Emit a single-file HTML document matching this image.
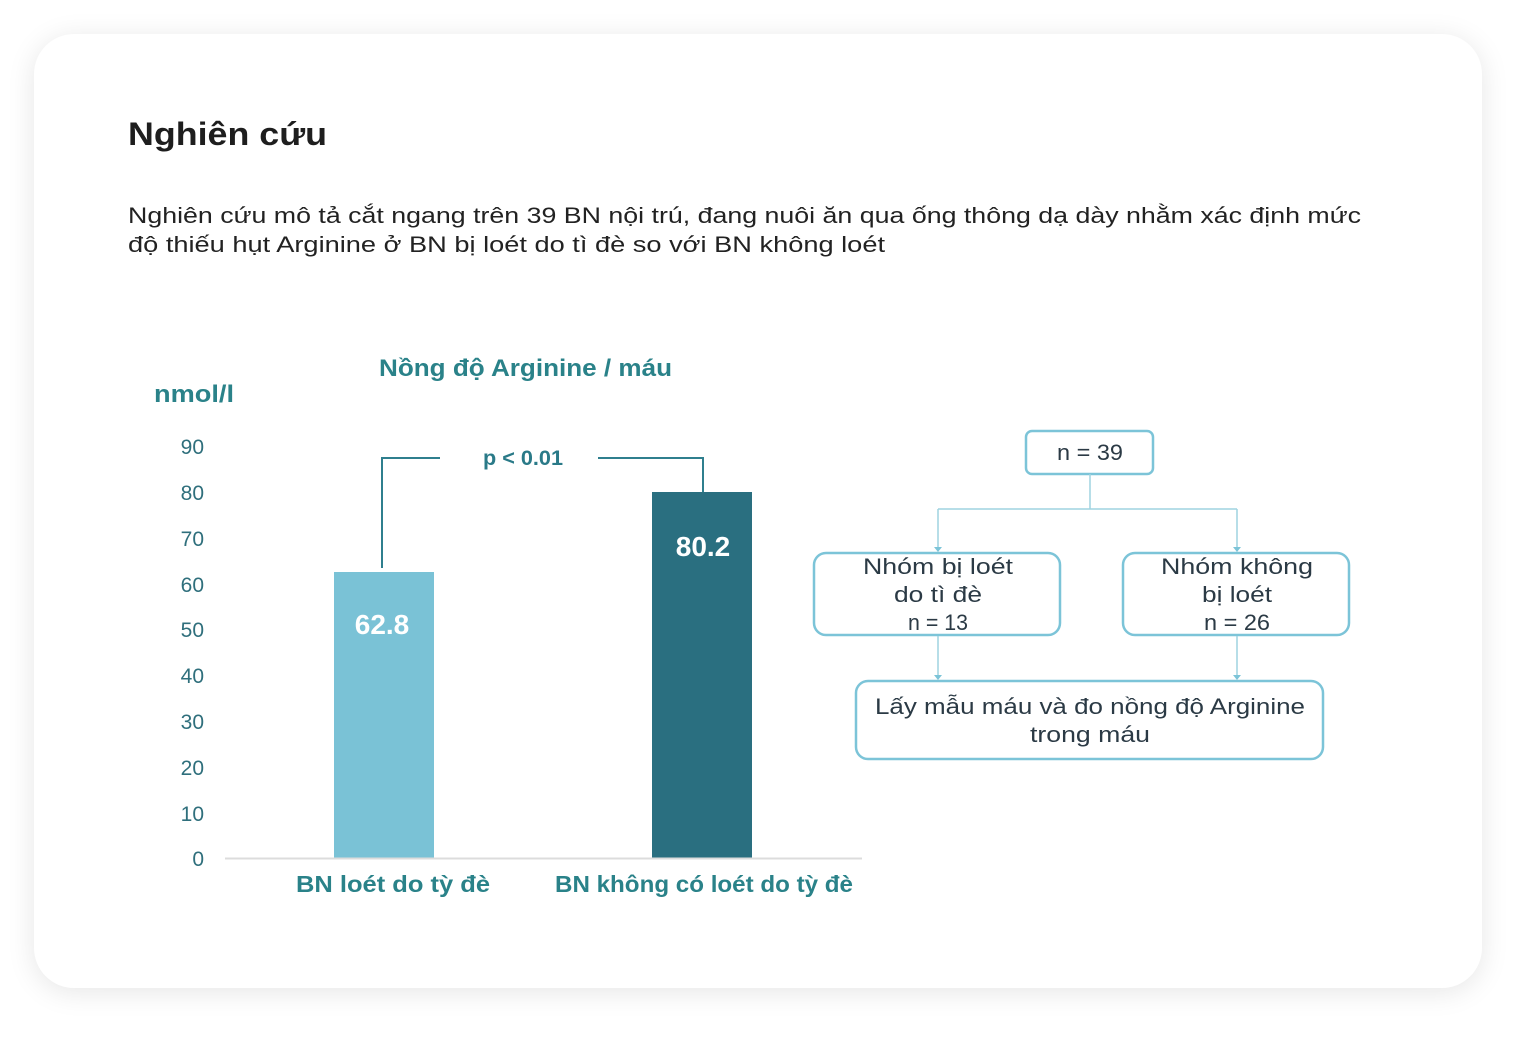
<!DOCTYPE html>
<html><head><meta charset="utf-8"><style>
html,body{margin:0;padding:0;background:#fff;}
body{width:1536px;height:1043px;overflow:hidden;position:relative;font-family:"Liberation Sans","DejaVu Sans",sans-serif;}
.card{position:absolute;left:34px;top:34px;width:1448px;height:954px;border-radius:40px;background:#fff;box-shadow:0 4px 28px rgba(0,0,0,0.10);}
svg{position:absolute;left:0;top:0;}
</style></head><body>
<div class="card"></div>
<svg width="1536" height="1043" viewBox="0 0 1536 1043" font-family="Liberation Sans, DejaVu Sans, sans-serif">
<text x="128" y="145" font-size="32" font-weight="bold" fill="#1e1e1e" textLength="199" lengthAdjust="spacingAndGlyphs">Nghiên cứu</text>
<text x="128" y="223" font-size="22" fill="#222" textLength="1233" lengthAdjust="spacingAndGlyphs">Nghiên cứu mô tả cắt ngang trên 39 BN nội trú, đang nuôi ăn qua ống thông dạ dày nhằm xác định mức</text>
<text x="128" y="252" font-size="22" fill="#222" textLength="757" lengthAdjust="spacingAndGlyphs">độ thiếu hụt Arginine ở BN bị loét do tì đè so với BN không loét</text>

<text x="379" y="376" font-size="24" font-weight="bold" fill="#2a8289" textLength="293" lengthAdjust="spacingAndGlyphs">Nồng độ Arginine / máu</text>
<text x="154" y="402" font-size="24" font-weight="bold" fill="#2a8289" textLength="80" lengthAdjust="spacingAndGlyphs">nmol/l</text>
<g font-size="21" fill="#2f6f7c" text-anchor="end">
<text x="204" y="454">90</text><text x="204" y="500">80</text><text x="204" y="546">70</text>
<text x="204" y="592">60</text><text x="204" y="637">50</text><text x="204" y="683">40</text>
<text x="204" y="729">30</text><text x="204" y="775">20</text><text x="204" y="821">10</text>
<text x="204" y="866">0</text>
</g>
<rect x="334" y="572" width="100" height="286" fill="#7ac2d6"/>
<rect x="652" y="492" width="100" height="366" fill="#2a6f80"/>
<line x1="225" y1="858.5" x2="862" y2="858.5" stroke="#dcdcdc" stroke-width="2"/>
<text x="382" y="634" font-size="28" font-weight="bold" fill="#fff" text-anchor="middle">62.8</text>
<text x="703" y="556" font-size="28" font-weight="bold" fill="#fff" text-anchor="middle">80.2</text>
<polyline points="382,568 382,458 440,458" fill="none" stroke="#2f7f8e" stroke-width="2"/>
<polyline points="598,458 703,458 703,492" fill="none" stroke="#2f7f8e" stroke-width="2"/>
<text x="483" y="465" font-size="21" font-weight="bold" fill="#2a7a88" textLength="80" lengthAdjust="spacingAndGlyphs">p &lt; 0.01</text>
<text x="296" y="892" font-size="23" font-weight="bold" fill="#2a8289" textLength="194" lengthAdjust="spacingAndGlyphs">BN loét do tỳ đè</text>
<text x="555" y="892" font-size="23" font-weight="bold" fill="#2a8289" textLength="298" lengthAdjust="spacingAndGlyphs">BN không có loét do tỳ đè</text>

<g fill="none" stroke="#7cc4d8" stroke-width="2.5">
<rect x="1026" y="431" width="127" height="43" rx="6"/>
<rect x="814" y="553" width="246" height="82" rx="12"/>
<rect x="1123" y="553" width="226" height="82" rx="12"/>
<rect x="856" y="681" width="467" height="78" rx="12"/>
</g>
<g fill="none" stroke="#9fd3e0" stroke-width="1.5">
<line x1="1090" y1="474" x2="1090" y2="509"/>
<line x1="938" y1="509" x2="1237" y2="509"/>
<line x1="938" y1="509" x2="938" y2="548"/>
<line x1="1237" y1="509" x2="1237" y2="548"/>
<line x1="938" y1="636" x2="938" y2="676"/>
<line x1="1237" y1="636" x2="1237" y2="676"/>
</g>
<g fill="#7cc4d8">
<polygon points="934,547 942,547 938,552"/><polygon points="1233,547 1241,547 1237,552"/>
<polygon points="934,675 942,675 938,680"/><polygon points="1233,675 1241,675 1237,680"/>
</g>
<g font-size="22" fill="#2b3a45" text-anchor="middle">
<text x="1090" y="460" textLength="66" lengthAdjust="spacingAndGlyphs">n = 39</text>
<text x="938" y="574" textLength="150" lengthAdjust="spacingAndGlyphs">Nhóm bị loét</text><text x="938" y="602" textLength="88" lengthAdjust="spacingAndGlyphs">do tì đè</text><text x="938" y="630" textLength="60" lengthAdjust="spacingAndGlyphs">n = 13</text>
<text x="1237" y="574" textLength="152" lengthAdjust="spacingAndGlyphs">Nhóm không</text><text x="1237" y="602" textLength="70" lengthAdjust="spacingAndGlyphs">bị loét</text><text x="1237" y="630" textLength="66" lengthAdjust="spacingAndGlyphs">n = 26</text>
<text x="1090" y="714" textLength="430" lengthAdjust="spacingAndGlyphs">Lấy mẫu máu và đo nồng độ Arginine</text><text x="1090" y="742" textLength="120" lengthAdjust="spacingAndGlyphs">trong máu</text>
</g>
</svg>
</body></html>
